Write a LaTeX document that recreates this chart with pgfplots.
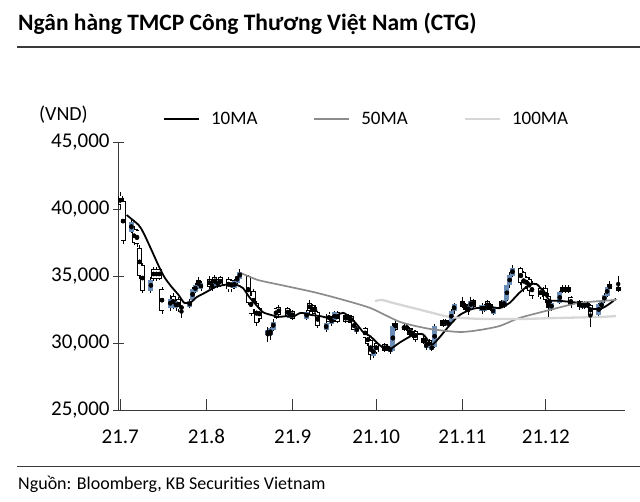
\documentclass[border=0pt]{standalone}
\usepackage{fontspec}
\setmainfont{Carlito}
\usepackage{pgfplots}
\pgfplotsset{compat=1.18}
\usepackage{pgfplotstable}

\definecolor{candleblue}{HTML}{6A8DB8}
\definecolor{ma50}{HTML}{8C8C8C}
\definecolor{ma100}{HTML}{D6D6D6}
\definecolor{axisgray}{HTML}{3A3A3A}

% down candles (close < open): hollow
\pgfplotstableread{
x o h l c
0 41000 41300 40000 40300
1 40600 40800 37400 37600
5 38500 38700 37300 37500
6 38400 38500 37200 37400
7 37100 37300 34800 35000
8 35800 36000 33700 33900
12 35500 35700 34600 34800
13 35500 35700 34600 34800
14 35500 35600 34700 34800
15 34000 34200 32200 32400
19 33500 33700 32500 32700
21 33300 33400 32300 32500
22 32700 32800 31900 32600
28 34700 34900 34100 34200
32 34800 35000 34000 34200
34 34900 35100 34200 34300
36 34900 35000 34200 34300
39 34800 34900 33800 34000
40 34700 34800 33800 34000
46 35000 35100 32800 33000
47 33600 33700 32000 32200
48 33900 34000 32300 32500
49 33000 33100 31300 31500
50 32600 32700 31600 31800
56 32600 32700 31800 31900
57 32700 32800 32000 32100
60 32600 32700 31900 32000
62 32400 32500 31700 31800
68 33000 33200 32200 32400
69 32800 32900 32200 32300
70 32700 32800 32100 32200
71 32300 32400 31100 31300
75 32200 32300 31500 31600
78 32300 32400 31500 31600
81 32100 32200 31500 31600
82 32100 32200 31500 31600
83 32000 32100 31400 31500
84 31600 31700 30900 31000
88 31100 31200 30300 30400
89 30600 30700 29800 29900
90 30200 30300 28700 29100
92 30000 30100 29200 29300
95 29900 30000 29300 29400
96 29800 29900 29400 29500
99 31500 31700 30900 31000
102 31300 31400 30900 31000
103 31300 31400 30900 31000
104 31100 31200 30500 30600
105 31000 31100 30400 30500
106 30900 31000 30100 30200
109 30400 30500 29900 30000
111 30200 30300 29600 29700
116 31700 31800 31200 31300
117 31700 31800 31300 31400
123 33100 33400 32600 32700
124 32900 33000 32300 32500
125 32800 32900 32100 32300
127 33200 33300 32600 32700
132 33100 33200 32500 32600
133 32900 33000 32400 32500
137 33100 33200 32600 32700
144 35600 35700 34300 34500
145 35300 35400 33800 34000
146 34900 35000 34000 34200
147 34800 34900 33700 33900
148 34500 34600 33300 33500
151 34100 34200 33300 33400
152 34000 34200 33400 33500
153 34100 34300 33000 33200
154 33500 33700 31900 32600
159 34200 34300 33700 33800
160 34200 34300 33700 33800
161 34200 34300 33700 33800
162 33400 33500 32600 32800
165 33100 33200 32500 32700
168 33000 33100 32600 32700
169 32800 32900 31200 32100
176 34400 34600 33800 34000
179 34200 35000 33800 33900
}\downcandles

% up candles (close > open): blue
\pgfplotstableread{
x o h l c
4 38300 39200 38200 39000
11 33900 34900 33700 34700
18 32600 33600 32400 33300
20 32600 33300 32400 33100
25 32700 33300 32600 33100
26 33200 34200 33100 34000
27 33800 34500 33700 34300
29 34000 34600 33900 34500
33 34000 34700 33900 34500
35 34200 34800 34100 34700
41 34100 34800 34000 34600
42 34500 35300 34400 35000
43 34800 35500 34700 35300
53 30600 31200 30100 31000
54 30600 31200 30200 31100
55 31000 31800 30900 31600
61 31900 32500 31800 32300
67 31800 32500 31700 32300
74 31000 31600 30800 31500
76 31400 32000 31300 31900
77 31700 32400 31600 32300
85 30800 31300 30700 31200
91 29000 29800 28900 29700
97 29300 29800 29200 29700
98 29400 31500 29300 31300
110 29600 30200 29500 30000
112 29500 29900 29400 29800
113 29700 31400 29600 31300
118 31300 31700 31200 31600
119 31600 32500 31500 32400
120 32400 33000 32200 32900
126 32600 33400 32500 33100
130 32400 33000 32200 32800
131 32400 32900 32300 32800
134 32200 32700 32100 32600
138 32700 33300 32600 33200
139 33200 34400 33100 34300
140 34300 35300 34100 35100
141 35000 35800 34900 35600
155 32500 33100 32400 33000
158 33000 33900 32900 33800
166 32600 33100 32500 33000
167 32600 33100 32500 33000
172 32100 33000 32000 32900
173 32600 33200 32500 33100
174 33100 33700 33000 33600
175 33500 34300 33400 34200
}\upcandles

\pgfplotstableread{
x y
2.3 39550
6.6 38800
8.4 38200
11.2 36950
13.7 35800
15.9 34900
18.4 34200
20.9 33600
23.0 33000
25.5 33050
27.3 33400
30.9 33800
34.4 34200
38.0 34350
41.6 34350
44.1 34100
46.3 33450
48.8 32850
51.3 32300
54.1 32100
57.0 31950
59.5 32000
62.0 31950
64.9 32250
68.4 32100
72.0 32000
75.6 31850
78.1 32100
80.2 32250
82.7 31900
85.2 31350
87.4 30800
89.9 30500
92.4 30000
94.5 29650
97.0 29550
100.6 30050
105.3 30600
108.8 30650
111.3 30000
112.4 29900
114.9 30450
118.5 31350
122.1 32100
126.7 32550
132.8 32700
136.4 32600
140.0 33000
143.5 33750
147.1 34350
149.6 34400
151.7 33950
154.3 33200
157.8 33150
162.5 33050
166.1 32950
169.6 32550
173.2 32600
175.7 32900
178.2 33300
}\maten

\pgfplotstableread{
x y
43.4 35220
49.5 34700
57.7 34330
69.5 33800
79.1 33280
89.9 32610
100.6 31570
111.3 31050
122.1 30820
129.2 30970
136.4 31270
143.5 31870
154.3 32460
164.9 32990
178.2 33210
}\mafifty

\pgfplotstableread{
x y
91.6 33130
94.1 33210
98.1 32990
105.3 32610
112.4 32240
118.5 31940
129.2 31800
143.5 31790
157.8 31870
172.1 31940
178.2 32010
}\mahundred

\begin{document}
\begin{tikzpicture}[x=1pt,y=1pt]
\useasboundingbox (0,0) rectangle (640,-502);
\node[anchor=base west, inner sep=0pt] at (18,-31) {\fontsize{23.5}{28}\selectfont\bfseries Ngân hàng TMCP Công Thương Việt Nam (CTG)};
\draw[axisgray, line width=1.2pt] (17,-47) -- (640,-47);
\draw[axisgray, line width=1pt] (17,-466) -- (640,-466);
\node[anchor=base west, inner sep=0pt] at (18,-489) {\fontsize{18}{22}\selectfont Nguồn: Bloomberg, KB Securities Vietnam};
\node[anchor=base east, inner sep=0pt] at (88,-121) {\fontsize{20}{24}\selectfont (VND)};
\begin{axis}[
  at={(118.6pt,-410pt)}, anchor=south west,
  scale only axis, width=506pt, height=268pt,
  xmin=-0.6, xmax=181.3, ymin=25000, ymax=45000,
  clip=false,
  axis lines=left,
  axis line style={-, axisgray, line width=0.9pt},
  xtick={0,31,62,92,123,153},
  xticklabels={21.7,21.8,21.9,21.10,21.11,21.12},
  ytick={25000,30000,35000,40000,45000},
  tick align=center,
  major tick length=11pt,
  tick style={axisgray, line width=0.9pt},
  every x tick/.append style={yshift=5.5pt},
  scaled y ticks=false,
  /pgf/number format/.cd, 1000 sep={,}, assume math mode=true,
  /pgfplots/.cd,
  tick label style={font=\fontsize{21}{24}\selectfont},
  yticklabel style={anchor=east, xshift=0pt},
  xticklabel style={anchor=base, yshift=-27.5pt},
  legend style={draw=none, fill=none, at={(0.082,1.086)}, anchor=west,
    legend columns=3, font=\fontsize{19}{22}\selectfont,
    /tikz/every odd column/.append style={column sep=9pt},
    /tikz/every even column/.append style={column sep=54pt}},
  legend image code/.code={\draw[#1] (0pt,0pt) -- (35pt,0pt);},
  legend cell align=left,
]
% wicks
\addplot[forget plot, only marks, mark=none, error bars/.cd, y dir=both, y explicit, error mark=none,
  error bar style={line width=0.8pt, black}]
  table[x=x, y expr={(\thisrow{h}+\thisrow{l})/2}, y error expr={(\thisrow{h}-\thisrow{l})/2}] {\downcandles};
\addplot[forget plot, only marks, mark=none, error bars/.cd, y dir=both, y explicit, error mark=none,
  error bar style={line width=0.8pt, black}]
  table[x=x, y expr={(\thisrow{h}+\thisrow{l})/2}, y error expr={(\thisrow{h}-\thisrow{l})/2}] {\upcandles};
% hollow bodies
\addplot[forget plot, only marks, mark=none, error bars/.cd, y dir=both, y explicit, error mark=none,
  error bar style={line width=5pt, black}]
  table[x=x, y expr={(\thisrow{o}+\thisrow{c})/2}, y error expr={max(abs(\thisrow{o}-\thisrow{c})/2,60)}] {\downcandles};
\addplot[forget plot, only marks, mark=none, error bars/.cd, y dir=both, y explicit, error mark=none,
  error bar style={line width=3.2pt, white}]
  table[x=x, y expr={(\thisrow{o}+\thisrow{c})/2}, y error expr={max(abs(\thisrow{o}-\thisrow{c})/2-65,0)}] {\downcandles};
% blue bodies
\addplot[forget plot, only marks, mark=none, error bars/.cd, y dir=both, y explicit, error mark=none,
  error bar style={line width=5pt, candleblue}]
  table[x=x, y expr={(\thisrow{o}+\thisrow{c})/2}, y error expr={max(abs(\thisrow{o}-\thisrow{c})/2,60)}] {\upcandles};
% moving averages
\addplot[black, line width=1.8pt, smooth, tension=0.4] table[x=x,y=y] {\maten};
\addlegendentry{10MA}
\addplot[ma50, line width=1.7pt, smooth, tension=0.4] table[x=x,y=y] {\mafifty};
\addlegendentry{50MA}
\addplot[ma100, line width=2.3pt, smooth, tension=0.4] table[x=x,y=y] {\mahundred};
\addlegendentry{100MA}
\end{axis}
\end{tikzpicture}
\end{document}
